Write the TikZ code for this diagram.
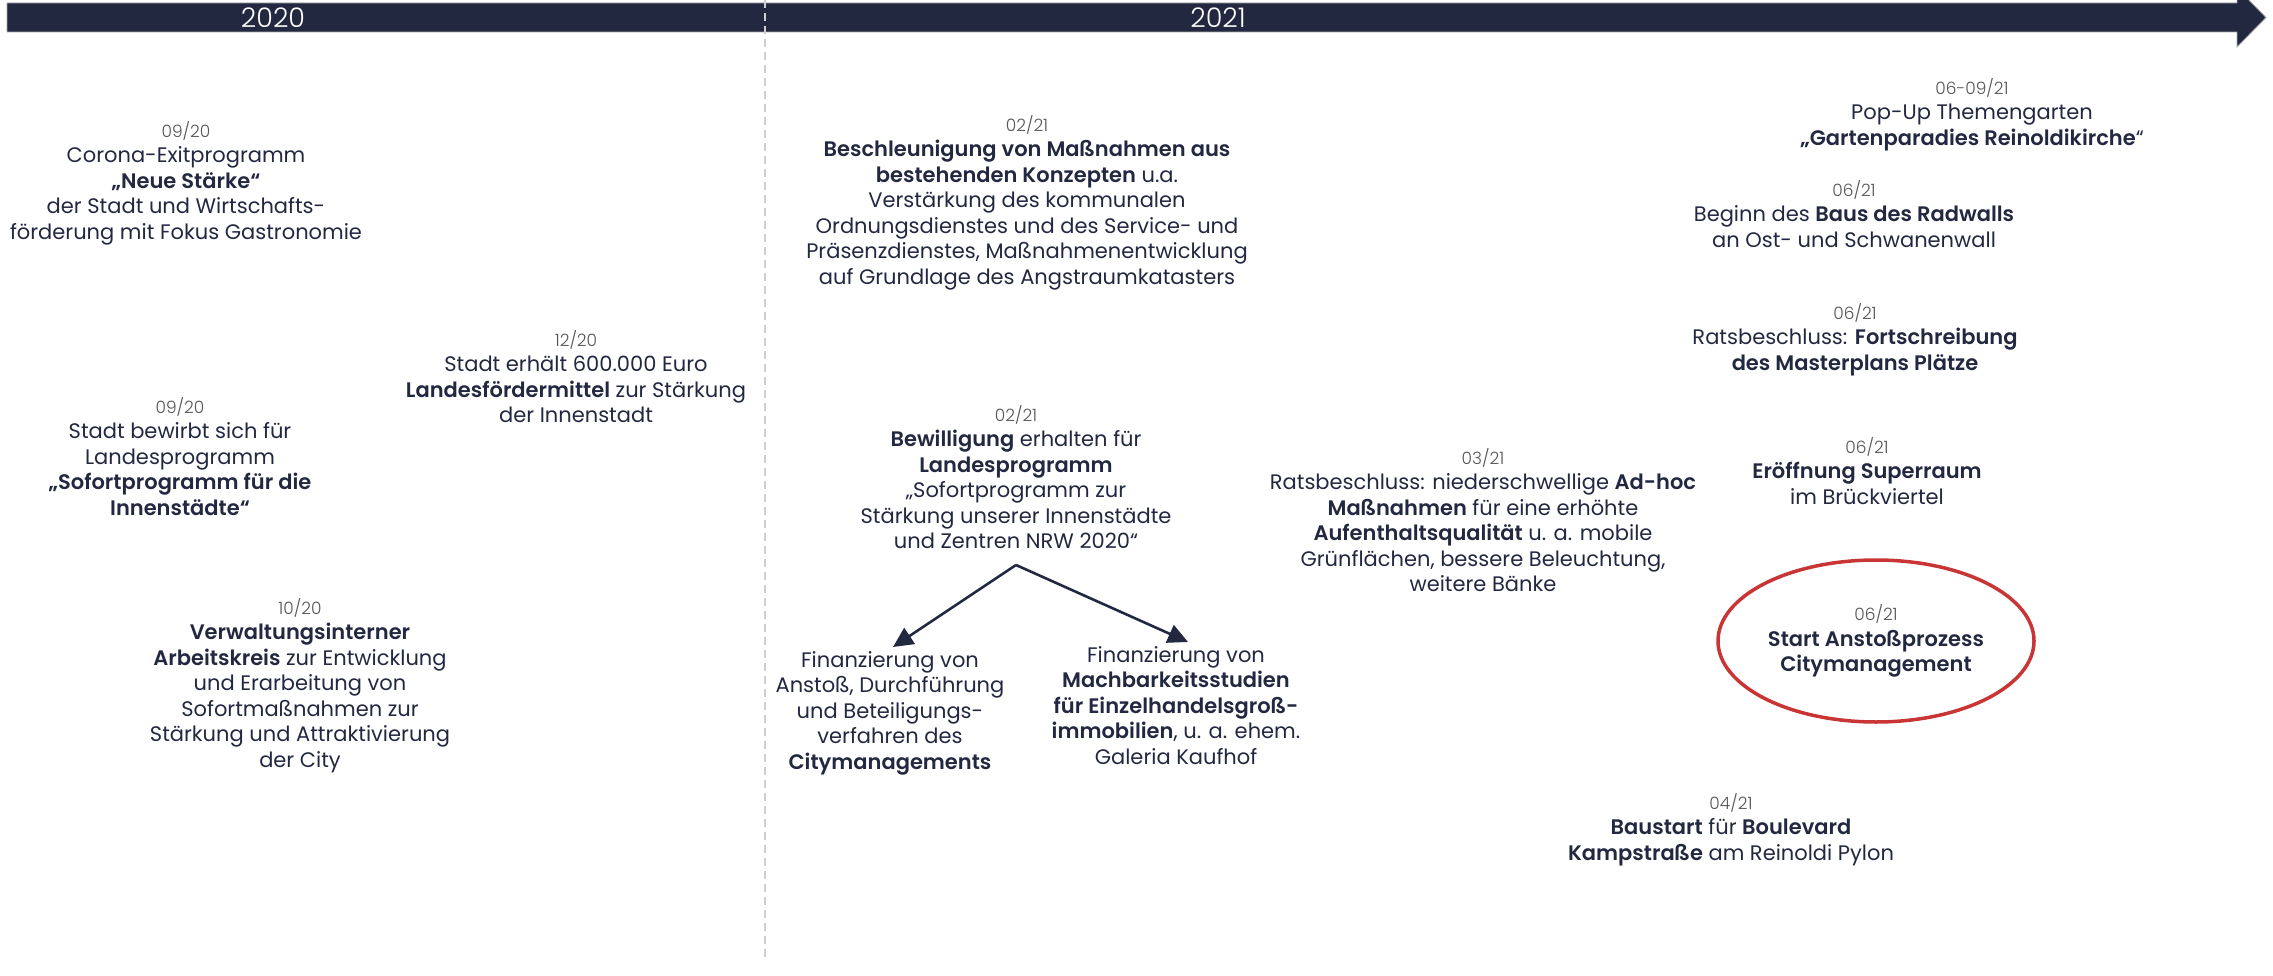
\documentclass[tikz,border=0pt]{standalone}
\usepackage{fontspec}
\setmainfont{Poppins}[BoldFont={Poppins SemiBold}]
\newfontfamily\lightfont{Poppins Light}
\usetikzlibrary{arrows.meta,shapes.geometric}
\definecolor{navy}{HTML}{232841}
\definecolor{dategray}{HTML}{555555}
\definecolor{circred}{HTML}{C93434}
\definecolor{dashgray}{HTML}{CFCFCF}
\newcommand\dt[1]{{\lightfont\fontsize{17}{25.5}\selectfont\color{dategray}#1}}
\tikzset{
  ev/.style={align=center, inner sep=0pt, text=navy, anchor=north,
    font=\fontsize{21}{25.5}\selectfont},
  yearlbl/.style={text=white, inner sep=0pt, font=\lightfont\fontsize{27}{30}\selectfont},
  arr/.style={draw=navy, line width=2.6pt, -{Triangle[length=20pt,width=19pt]}},
  divider/.style={draw=dashgray, line width=1.4pt, dash pattern=on 8pt off 5pt},
}
\begin{document}
\begin{tikzpicture}[x=1pt,y=-1pt]
\useasboundingbox (0,0) rectangle (2273,976);
% timeline bar
\fill[navy, draw=gray!70, line width=0.8pt] (7,3) -- (2237,3) -- (2237,-12) -- (2266,17.5) -- (2237,47) -- (2237,32) -- (7,32) -- cycle;
\node[yearlbl] (y20) at (273,18) {2020};
\node[yearlbl] (y21) at (1218,18) {2021};
\coordinate (dtop) at (765,0);
\coordinate (dbot) at (765,957);
\draw[divider] (dtop) -- (dbot);

\node[ev] (A) at (186,121) {\dt{09/20}\\Corona-Exitprogramm\\\textbf{„Neue Stärke“}\\der Stadt und Wirtschafts-\\förderung mit Fokus Gastronomie};
\node[ev] (B) at (576,330) {\dt{12/20}\\Stadt erhält 600.000 Euro\\\textbf{Landesfördermittel} zur Stärkung\\der Innenstadt};
\node[ev] (C) at (180,397) {\dt{09/20}\\Stadt bewirbt sich für\\Landesprogramm\\\textbf{„Sofortprogramm für die}\\\textbf{Innenstädte“}};
\node[ev] (D) at (300,598) {\dt{10/20}\\\textbf{Verwaltungsinterner}\\\textbf{Arbeitskreis} zur Entwicklung\\und Erarbeitung von\\Sofortmaßnahmen zur\\Stärkung und Attraktivierung\\der City};
\node[ev] (E) at (1027,115) {\dt{02/21}\\\textbf{Beschleunigung von Maßnahmen aus}\\\textbf{bestehenden Konzepten} u.a.\\Verstärkung des kommunalen\\Ordnungsdienstes und des Service- und\\Präsenzdienstes, Maßnahmenentwicklung\\auf Grundlage des Angstraumkatasters};
\node[ev] (F) at (1016,405) {\dt{02/21}\\\textbf{Bewilligung} erhalten für\\\textbf{Landesprogramm}\\„Sofortprogramm zur\\Stärkung unserer Innenstädte\\und Zentren NRW 2020“};
\node[ev] (G) at (890,651) {Finanzierung von\\Anstoß, Durchführung\\und Beteiligungs-\\verfahren des\\\textbf{Citymanagements}};
\node[ev] (H) at (1176,646) {Finanzierung von\\\textbf{Machbarkeitsstudien}\\\textbf{für Einzelhandelsgroß-}\\\textbf{immobilien}, u. a. ehem.\\Galeria Kaufhof};
\node[ev] (I) at (1483,448) {\dt{03/21}\\Ratsbeschluss: niederschwellige \textbf{Ad-hoc}\\\textbf{Maßnahmen} für eine erhöhte\\\textbf{Aufenthaltsqualität} u. a. mobile\\Grünflächen, bessere Beleuchtung,\\weitere Bänke};
\node[ev] (J) at (1972,78) {\dt{06-09/21}\\Pop-Up Themengarten\\\textbf{„Gartenparadies Reinoldikirche}“};
\node[ev] (K) at (1854,180) {\dt{06/21}\\Beginn des \textbf{Baus des Radwalls}\\an Ost- und Schwanenwall};
\node[ev] (L) at (1855,303) {\dt{06/21}\\Ratsbeschluss: \textbf{Fortschreibung}\\\textbf{des Masterplans Plätze}};
\node[ev] (M) at (1867,437) {\dt{06/21}\\\textbf{Eröffnung Superraum}\\im Brückviertel};
\node[ev, anchor=center, ellipse, draw=circred, line width=3.5pt, minimum width=316pt, minimum height=162pt] (N) at (1876,641) {\dt{06/21}\\\textbf{Start Anstoßprozess}\\\textbf{Citymanagement}};
\node[ev] (O) at (1731,793) {\dt{04/21}\\\textbf{Baustart} für \textbf{Boulevard}\\\textbf{Kampstraße} am Reinoldi Pylon};

\coordinate (apex) at (1016,565);
\coordinate (tipL) at (893,647);
\coordinate (tipR) at (1188,642);
\draw[arr] (apex) -- (tipL);
\draw[arr] (apex) -- (tipR);
\end{tikzpicture}
\end{document}
